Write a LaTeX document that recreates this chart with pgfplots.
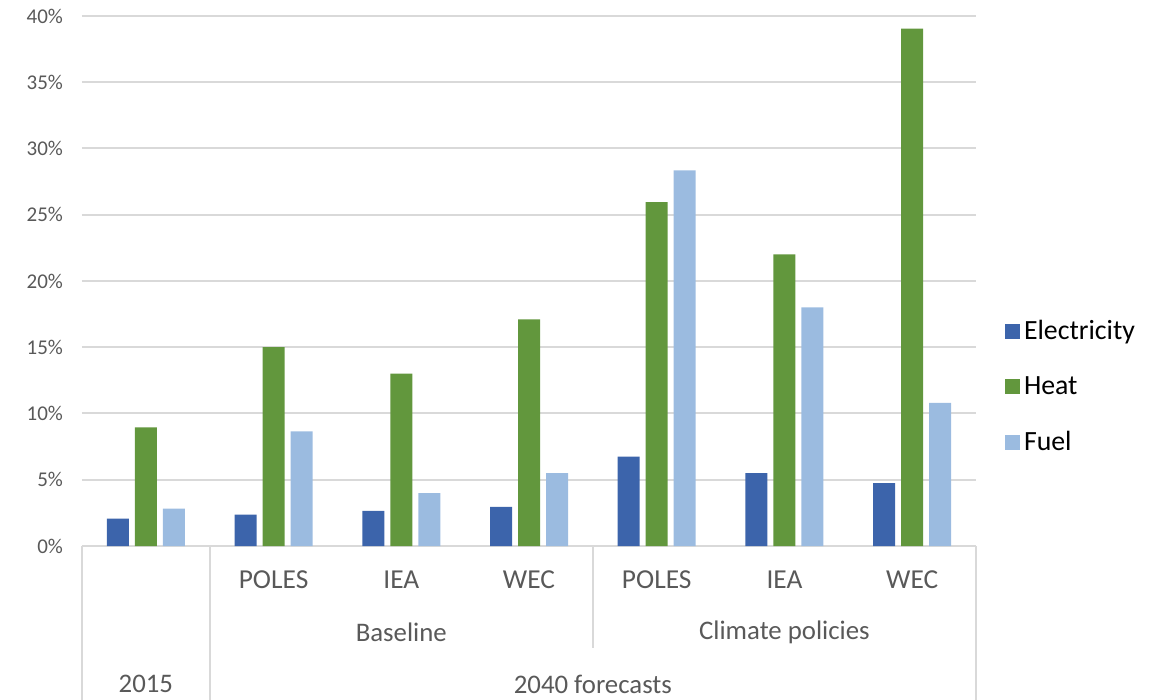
\documentclass[border=0pt]{standalone}
\usepackage{pgfplots}
\pgfplotsset{compat=1.18}
\usepackage{fontspec}
\setmainfont{Carlito}
\definecolor{elec}{HTML}{3C64AB}
\definecolor{heat}{HTML}{62973D}
\definecolor{fuel}{HTML}{9BBBE0}
\definecolor{gridc}{HTML}{D9D9D9}
\definecolor{txt}{HTML}{595959}
\begin{document}
\begin{tikzpicture}
\useasboundingbox (-41pt,-77pt) rectangle (536.5pt,273pt);
\begin{axis}[
  at={(0,0)}, anchor=south west,
  width=447pt, height=265pt, scale only axis,
  clip=false,
  ybar=3pt, bar width=11pt,
  xmin=-0.5, xmax=6.5, ymin=0, ymax=40,
  xtick={0,1,2,3,4,5,6},
  xticklabels={,POLES,IEA,WEC,POLES,IEA,WEC},
  ytick={0,5,...,40},
  yticklabel={\pgfmathprintnumber{\tick}\%},
  /pgf/number format/assume math mode=true,
  axis line style={draw=none},
  major tick length=0pt,
  ymajorgrids, grid style={gridc, line width=1pt},
  tick label style={text=txt},
  yticklabel style={font=\fontsize{10.5}{12}\selectfont, xshift=-6pt},
  xticklabel style={font=\fontsize{13.7}{16}\selectfont, anchor=center, yshift=-17pt},
  legend style={at={(1.032,0.3)}, anchor=west, draw=none, fill=none,
    font=\fontsize{13.9}{16}\selectfont, row sep=13pt, inner sep=0pt,
    /tikz/every even column/.append style={column sep=8pt}},
  legend cell align=left,
  legend image code/.code={\fill[#1] (0pt,-3.75pt) rectangle (7.5pt,3.75pt);},
]
\addplot[fill=elec, draw=none] coordinates {(0,2.06) (1,2.36) (2,2.65) (3,2.95) (4,6.75) (5,5.5) (6,4.74)};
\addplot[fill=heat, draw=none] coordinates {(0,8.96) (1,15.0) (2,13.0) (3,17.1) (4,25.95) (5,22.0) (6,39.05)};
\addplot[fill=fuel, draw=none] coordinates {(0,2.82) (1,8.65) (2,4.0) (3,5.5) (4,28.35) (5,18.0) (6,10.8)};
\legend{Electricity, Heat, Fuel}
\draw[gridc, line width=1pt] (axis cs:-0.5,0) -- ++(0pt,-77pt);
\draw[gridc, line width=1pt] (axis cs:0.5,0) -- ++(0pt,-77pt);
\draw[gridc, line width=1pt] (axis cs:3.5,0) -- ++(0pt,-51pt);
\draw[gridc, line width=1pt] (axis cs:6.5,0) -- ++(0pt,-77pt);
\node[text=txt, font=\fontsize{13.4}{16}\selectfont] at ([yshift=-43pt]axis cs:2,0) {Baseline};
\node[text=txt, font=\fontsize{13.4}{16}\selectfont] at ([yshift=-43pt]axis cs:5,0) {Climate policies};
\node[text=txt, font=\fontsize{13.4}{16}\selectfont] at ([yshift=-69pt]axis cs:0,0) {2015};
\node[text=txt, font=\fontsize{13.4}{16}\selectfont] at ([yshift=-69pt]axis cs:3.5,0) {2040 forecasts};
\end{axis}
\end{tikzpicture}
\end{document}
